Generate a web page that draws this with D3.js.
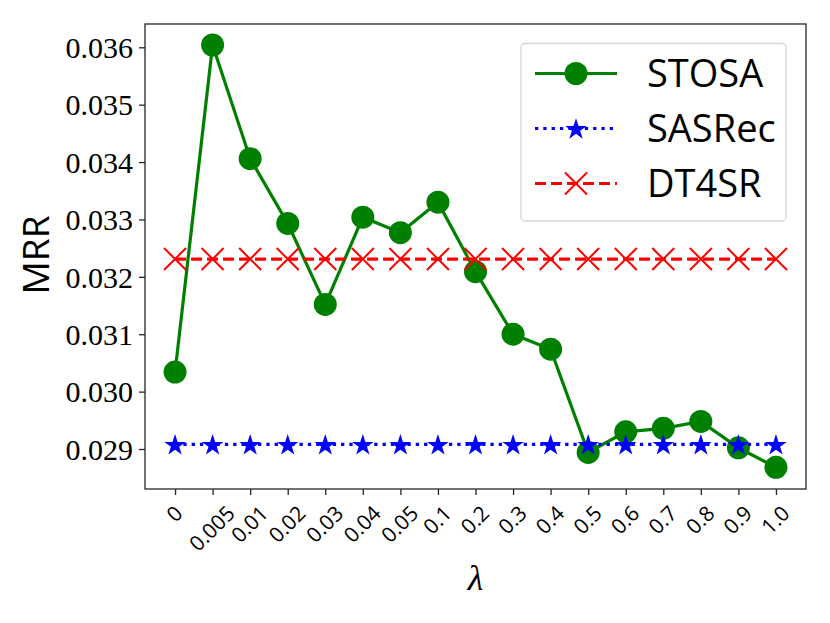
<!DOCTYPE html>
<html>
<head>
<meta charset="utf-8">
<script src="https://cdn.jsdelivr.net/npm/d3@7"></script>
<style>
  body { margin: 0; background: #fff; }
  svg { display: block; }
</style>
</head>
<body>
<svg id="chart" width="830" height="623"></svg>
<script>
// values
var lambdas = ["0", "0.005", "0.01", "0.02", "0.03", "0.04", "0.05", "0.1", "0.2",
               "0.3", "0.4", "0.5", "0.6", "0.7", "0.8", "0.9", "1.0"];
var stosa = [0.03034, 0.03604, 0.03406, 0.03293, 0.03152, 0.03304, 0.03277, 0.03330, 0.03209,
             0.03100, 0.03074, 0.02894, 0.02930, 0.02936, 0.02948, 0.02902, 0.02868];
var sasrec = [0.02908, 0.02908, 0.02908, 0.02908, 0.02908, 0.02908, 0.02908, 0.02908, 0.02908,
              0.02908, 0.02908, 0.02908, 0.02908, 0.02908, 0.02908, 0.02908, 0.02908];
var dt4sr = [0.03231, 0.03231, 0.03231, 0.03231, 0.03231, 0.03231, 0.03231, 0.03231, 0.03231,
             0.03231, 0.03231, 0.03231, 0.03231, 0.03231, 0.03231, 0.03231, 0.03231];
var yTicks = [0.029, 0.030, 0.031, 0.032, 0.033, 0.034, 0.035, 0.036];
var seriesNames = ["STOSA", "SASRec", "DT4SR"];

var svg = d3.select("#chart");
var pLeft = 145, pRight = 806, pTop = 24, pBottom = 489;

var x = d3.scalePoint().domain(lambdas).range([pLeft, pRight]).padding(0.8);
var y = d3.scaleLinear().domain([0.028303, 0.036406]).range([pBottom, pTop]);

var axisColor = "#262626";

// y axis
var yAxis = svg.append("g")
  .attr("transform", "translate(" + pLeft + ",0)")
  .call(d3.axisLeft(y).tickValues(yTicks).tickFormat(d3.format(".3f")).tickSize(6).tickPadding(6));
yAxis.select(".domain").remove();
yAxis.selectAll(".tick line").attr("stroke", axisColor).attr("stroke-width", 1.3);
yAxis.selectAll(".tick text")
  .attr("font-family", "Liberation Serif, Times New Roman, serif")
  .attr("font-size", 30)
  .attr("fill", "#000")
  .attr("dy", "0.34em");

// x axis
var xAxis = svg.append("g")
  .attr("transform", "translate(0," + pBottom + ")")
  .call(d3.axisBottom(x).tickSize(6).tickFormat(""));
xAxis.select(".domain").remove();
xAxis.selectAll(".tick line").attr("stroke", axisColor).attr("stroke-width", 1.3);

// rotated x tick labels, centred on the tick like ha=center, va=top
var fs = 21;
var labelTop = 502;
lambdas.forEach(function(l) {
  var t = svg.append("text")
    .attr("font-family", "Open Sans, sans-serif")
    .attr("font-size", fs)
    .attr("text-anchor", "middle")
    .attr("dominant-baseline", "central")
    .text(l);
  var w = t.node().getComputedTextLength();
  var h = fs * 0.95;
  var cy = labelTop + (w + h) * Math.SQRT1_2 / 2;
  t.attr("transform", "translate(" + (x(l) - 1) + "," + cy + ") rotate(-45)");
});

// frame
svg.append("rect")
  .attr("x", pLeft).attr("y", pTop)
  .attr("width", pRight - pLeft).attr("height", pBottom - pTop)
  .attr("fill", "none").attr("stroke", axisColor).attr("stroke-width", 1.3);

// axis titles
svg.append("text")
  .attr("transform", "translate(49,255) rotate(-90)")
  .attr("text-anchor", "middle")
  .attr("font-family", "Open Sans, sans-serif")
  .attr("font-size", 37)
  .text("MRR");

svg.append("text")
  .attr("x", x("0.2")).attr("y", 590)
  .attr("text-anchor", "middle")
  .attr("font-family", "Liberation Serif, serif")
  .attr("font-style", "italic")
  .attr("font-size", 36)
  .text("λ");

// marker helpers
var starPath = d3.symbol().type(d3.symbolStar).size(145)();
var crossPath = "M-11,-11L11,11M-11,11L11,-11";

function drawCircle(g, cx, cy) {
  g.append("circle").attr("cx", cx).attr("cy", cy).attr("r", 11.5).attr("fill", "green");
}
function drawStar(g, cx, cy) {
  g.append("path").attr("d", starPath).attr("transform", "translate(" + cx + "," + (cy + 1) + ")").attr("fill", "blue");
}
function drawCross(g, cx, cy) {
  g.append("path").attr("d", crossPath).attr("transform", "translate(" + cx + "," + cy + ")")
    .attr("fill", "none").attr("stroke", "red").attr("stroke-width", 2);
}

var series = [
  { name: seriesNames[0], values: stosa, color: "green", dash: null, marker: drawCircle },
  { name: seriesNames[1], values: sasrec, color: "blue", dash: "3.3,5", marker: drawStar },
  { name: seriesNames[2], values: dt4sr, color: "red", dash: "11,5", marker: drawCross }
];

var line = d3.line()
  .x(function(d, i) { return x(lambdas[i]); })
  .y(function(d) { return y(d); });

var plot = svg.append("g");
series.forEach(function(s) {
  var g = plot.append("g");
  g.append("path")
    .datum(s.values)
    .attr("d", line)
    .attr("fill", "none")
    .attr("stroke", s.color)
    .attr("stroke-width", 3.2)
    .attr("stroke-dasharray", s.dash);
  s.values.forEach(function(v, i) { s.marker(g, x(lambdas[i]), y(v)); });
});

// legend
var lg = svg.append("g");
lg.append("rect")
  .attr("x", 521).attr("y", 43.5).attr("width", 265).attr("height", 177.5)
  .attr("rx", 4).attr("fill", "#fff").attr("fill-opacity", 0.8)
  .attr("stroke", "#d6d6d6").attr("stroke-width", 1.3);
series.forEach(function(s, i) {
  var ry = 73.5 + i * 55;
  lg.append("line")
    .attr("x1", 535).attr("x2", 617).attr("y1", ry).attr("y2", ry)
    .attr("stroke", s.color).attr("stroke-width", 3.2)
    .attr("stroke-dasharray", s.dash);
  s.marker(lg, 576, ry);
  lg.append("text")
    .attr("x", 647).attr("y", ry)
    .attr("dy", "0.36em")
    .attr("font-family", "Open Sans, sans-serif")
    .attr("font-size", 38)
    .text(s.name);
});
</script>
</body>
</html>
